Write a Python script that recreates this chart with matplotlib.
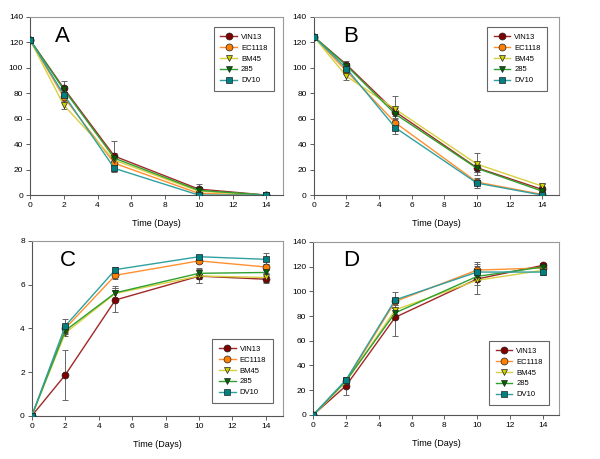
import matplotlib as mpl
mpl.use('Agg')
import matplotlib.pyplot as plt

plt.rcParams['font.family'] = ['Liberation Sans', 'DejaVu Sans']

days = [0, 2, 5, 10, 14]
strains = ['VIN13', 'EC1118', 'BM45', '285', 'DV10']

# panel A
a_vin13 = [122, 84, 30.6, 4.7, 0]
a_ec1118 = [122, 77, 25, 1.3, 0]
a_bm45 = [122, 70.7, 27.5, 3, 0]
a_285 = [122, 83, 29, 3.7, 0]
a_dv10 = [122, 79, 21, 0, 0]
a_err_vin13 = [0, 6, 12, 3.7, 0]
a_err_ec1118 = [0, 3, 2, 1, 0]
a_err_bm45 = [0, 3, 2, 1, 0]
a_err_285 = [0, 2, 4, 1, 0]
a_err_dv10 = [0, 2, 3, 0.5, 0]

# panel B
b_vin13 = [124.5, 102.6, 65.4, 21.5, 4.4]
b_ec1118 = [124.5, 97.4, 56.8, 10.2, 0.5]
b_bm45 = [124.5, 93.4, 67.5, 24.3, 7]
b_285 = [124.5, 101.8, 63.6, 21, 3.1]
b_dv10 = [124.5, 99.5, 52.9, 9.4, 0]
b_err_vin13 = [0, 3, 3, 3, 3]
b_err_ec1118 = [0, 2, 3, 2, 1]
b_err_bm45 = [0, 3, 10.5, 8.4, 2]
b_err_285 = [0, 2, 3, 3, 2]
b_err_dv10 = [0, 2, 5, 4, 1]

# panel C
c_vin13 = [0, 1.87, 5.3, 6.39, 6.25]
c_ec1118 = [0, 4.0, 6.43, 7.09, 6.81]
c_bm45 = [0, 3.79, 5.6, 6.4, 6.33]
c_285 = [0, 3.9, 5.63, 6.52, 6.56]
c_dv10 = [0, 4.11, 6.69, 7.28, 7.16]
c_err_vin13 = [0, 1.15, 0.57, 0.3, 0.15]
c_err_ec1118 = [0, 0.15, 0.15, 0.1, 0.15]
c_err_bm45 = [0, 0.15, 0.25, 0.3, 0.2]
c_err_285 = [0, 0.15, 0.3, 0.25, 0.2]
c_err_dv10 = [0, 0.3, 0.1, 0.1, 0.27]

# panel D
d_vin13 = [0, 23.6, 79, 110, 121]
d_ec1118 = [0, 27.3, 91.8, 117.2, 118.9]
d_bm45 = [0, 26.8, 85, 108.9, 117]
d_285 = [0, 27.6, 82.6, 112.1, 119.7]
d_dv10 = [0, 28.4, 93.1, 115.6, 115.6]
d_err_vin13 = [0, 7.4, 14.8, 12, 2]
d_err_ec1118 = [0, 2, 3, 6.5, 2]
d_err_bm45 = [0, 2, 4, 4, 2]
d_err_285 = [0, 2, 4, 4, 2]
d_err_dv10 = [0, 2.5, 6.3, 5, 2]

line_colors = ['#a02828', '#ff9030', '#d8d040', '#30a030', '#30a0a0']
face_colors = ['#800000', '#ff8000', '#d0d000', '#006400', '#008080']
markers = ['o', 'o', 'v', 'v', 's']

panels = [
    ('A', [a_vin13, a_ec1118, a_bm45, a_285, a_dv10],
     [a_err_vin13, a_err_ec1118, a_err_bm45, a_err_285, a_err_dv10],
     [0.05, 0.575, 0.422, 0.388], (0, 140), [0, 20, 40, 60, 80, 100, 120, 140],
     (0.126, 0.893), 'upper right', (0.98, 0.966)),
    ('B', [b_vin13, b_ec1118, b_bm45, b_285, b_dv10],
     [b_err_vin13, b_err_ec1118, b_err_bm45, b_err_285, b_err_dv10],
     [0.523, 0.575, 0.408, 0.388], (0, 140), [0, 20, 40, 60, 80, 100, 120, 140],
     (0.15, 0.893), 'upper right', (0.97, 0.966)),
    ('C', [c_vin13, c_ec1118, c_bm45, c_285, c_dv10],
     [c_err_vin13, c_err_ec1118, c_err_bm45, c_err_285, c_err_dv10],
     [0.053, 0.094, 0.418, 0.381], (0, 8), [0, 2, 4, 6, 8],
     (0.142, 0.886), 'lower right', (0.976, 0.051)),
    ('D', [d_vin13, d_ec1118, d_bm45, d_285, d_dv10],
     [d_err_vin13, d_err_ec1118, d_err_bm45, d_err_285, d_err_dv10],
     [0.522, 0.096, 0.41, 0.377], (0, 140), [0, 20, 40, 60, 80, 100, 120, 140],
     (0.154, 0.892), 'lower right', (0.976, 0.035)),
]

fig = plt.figure(figsize=(6, 4.59), dpi=100)

for letter, series, errs, rect, ylim, yticks, letter_pos, loc, anchor in panels:
    ax = fig.add_axes(rect)
    for i, name in enumerate(strains):
        ax.errorbar(days, series[i], yerr=errs[i], fmt='none', ecolor='#666666',
                    elinewidth=0.7, capsize=2, capthick=0.7, zorder=2)
        ax.plot(days, series[i], color=line_colors[i], lw=1, marker=markers[i],
                markersize=5, markerfacecolor=face_colors[i], markeredgecolor='#222222',
                markeredgewidth=0.5, label=name, zorder=3)
    ax.set_xlim(0, 15)
    ax.set_ylim(*ylim)
    ax.set_xticks([0, 2, 4, 6, 8, 10, 12, 14])
    ax.set_yticks(yticks)
    ax.tick_params(labelsize=6, length=3, width=0.6, color='#444444', pad=2)
    for side in ['top', 'right']:
        ax.spines[side].set_color('#999999')
        ax.spines[side].set_linewidth(0.8)
    for side in ['left', 'bottom']:
        ax.spines[side].set_color('#555555')
        ax.spines[side].set_linewidth(0.8)
    ax.set_xlabel('Time (Days)', fontsize=6.5, labelpad=7)
    ax.text(letter_pos[0], letter_pos[1], letter, transform=ax.transAxes,
            fontsize=16, ha='center', va='center')
    leg = ax.legend(loc=loc, bbox_to_anchor=anchor, fontsize=5.5, fancybox=False,
                    edgecolor='#666666', framealpha=1, handlelength=2.2,
                    labelspacing=0.45, borderpad=0.9, handletextpad=0.5)
    leg.get_frame().set_linewidth(0.8)

fig.savefig('out.png', dpi=100)
